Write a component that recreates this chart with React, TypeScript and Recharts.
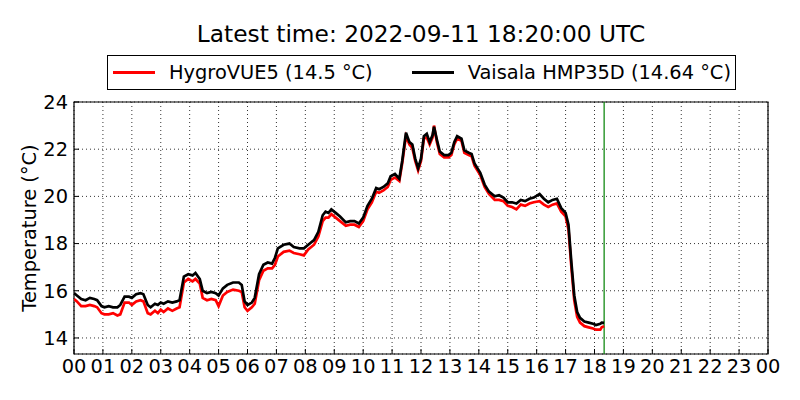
import React from "react";
import {
  LineChart,
  Line,
  XAxis,
  YAxis,
  CartesianGrid,
  ReferenceLine,
  ReferenceArea,
} from "recharts";

const titleText = "Latest time: 2022-09-11 18:20:00 UTC";
const seriesNames = ["HygroVUE5 (14.5 °C)", "Vaisala HMP35D (14.64 °C)"];
const seriesColors = ["#ff0000", "#000000"];
const latestHour = 18.333;

const hours = [
  0.0, 0.1, 0.25, 0.4, 0.55, 0.7, 0.8, 0.95, 1.05, 1.2, 1.35, 1.5, 1.6, 1.75, 1.9, 2.0,
  2.15, 2.3, 2.4, 2.55, 2.65, 2.8, 2.9, 3.0, 3.1, 3.25, 3.4, 3.55, 3.65, 3.8, 3.95, 4.1,
  4.2, 4.35, 4.45, 4.6, 4.75, 4.9, 5.0, 5.15, 5.3, 5.5, 5.7, 5.8, 5.9, 6.0, 6.15, 6.25,
  6.4, 6.55, 6.7, 6.85, 6.95, 7.05, 7.25, 7.45, 7.6, 7.8, 7.95, 8.1, 8.3, 8.45, 8.6, 8.7,
  8.8, 8.9, 9.05, 9.2, 9.4, 9.55, 9.7, 9.85, 10.0, 10.15, 10.3, 10.45, 10.55, 10.7, 10.85,
  10.95, 11.1, 11.25, 11.35, 11.48, 11.6, 11.7, 11.8, 11.9, 12.0, 12.1, 12.2, 12.3, 12.4,
  12.45, 12.55, 12.65, 12.8, 12.95, 13.05, 13.15, 13.25, 13.4, 13.5, 13.65, 13.75, 13.85,
  14.05, 14.2, 14.35, 14.55, 14.7, 14.85, 15.0, 15.15, 15.3, 15.45, 15.6, 15.75, 15.9,
  16.1, 16.25, 16.4, 16.55, 16.7, 16.85, 17.0, 17.1, 17.2, 17.3, 17.4, 17.5, 17.65, 17.8,
  17.95, 18.05, 18.2, 18.25, 18.333,
];

const vaisala = [
  15.9, 15.8, 15.65, 15.6, 15.7, 15.65, 15.6, 15.35, 15.3, 15.35, 15.3, 15.3, 15.4, 15.75, 15.75, 15.7,
  15.85, 15.9, 15.85, 15.4, 15.3, 15.45, 15.4, 15.5, 15.45, 15.55, 15.5, 15.55, 15.6, 16.6, 16.7, 16.65,
  16.75, 16.5, 16.0, 15.9, 15.95, 15.9, 15.8, 16.1, 16.25, 16.35, 16.35, 16.25, 15.55, 15.4, 15.5, 15.7,
  16.7, 17.1, 17.2, 17.15, 17.4, 17.8, 17.95, 18.0, 17.85, 17.8, 17.8, 17.95, 18.15, 18.5, 19.2, 19.35,
  19.3, 19.45, 19.3, 19.15, 18.9, 18.95, 18.95, 18.85, 19.1, 19.6, 19.9, 20.35, 20.3, 20.4, 20.55,
  20.85, 20.95, 20.75, 21.5, 22.7, 22.3, 22.2, 21.6, 21.2, 21.6, 22.55, 22.65, 22.3, 22.6,
  22.95, 22.4, 21.9, 21.75, 21.75, 21.85, 22.3, 22.55, 22.45, 21.95, 21.85, 21.8, 21.4,
  21.0, 20.5, 20.2, 20.0, 20.05, 19.95, 19.75, 19.75, 19.7, 19.85, 19.8, 19.9, 19.95,
  20.1, 19.9, 19.75, 19.85, 19.9, 19.5, 19.3, 18.8, 17.2, 15.8, 15.1, 14.85, 14.7, 14.65,
  14.6, 14.55, 14.6, 14.65, 14.64,
];

const hygrovue = [
  15.65, 15.55, 15.35, 15.35, 15.4, 15.35, 15.3, 15.05, 15.0, 15.0, 15.05, 14.95, 15.0, 15.5, 15.5, 15.4,
  15.55, 15.6, 15.55, 15.05, 15.0, 15.15, 15.05, 15.2, 15.1, 15.25, 15.15, 15.25, 15.3, 16.35, 16.5, 16.4,
  16.5, 16.3, 15.7, 15.6, 15.65, 15.6, 15.35, 15.8, 15.95, 16.05, 16.0, 15.95, 15.3, 15.15, 15.3, 15.45,
  16.45, 16.85, 16.95, 16.95, 17.1, 17.45, 17.65, 17.7, 17.6, 17.55, 17.5, 17.75, 17.95, 18.3, 18.95, 19.1,
  19.1, 19.25, 19.1, 18.95, 18.75, 18.8, 18.8, 18.7, 18.95, 19.45, 19.75, 20.2, 20.15, 20.25, 20.4,
  20.7, 20.8, 20.65, 21.4, 22.55, 22.2, 22.05, 21.5, 21.1, 21.5, 22.45, 22.5, 22.2, 22.5,
  23.0, 22.3, 21.8, 21.65, 21.65, 21.75, 22.2, 22.45, 22.35, 21.85, 21.75, 21.7, 21.3,
  20.9, 20.4, 20.1, 19.85, 19.85, 19.8, 19.6, 19.55, 19.45, 19.65, 19.6, 19.7, 19.75,
  19.8, 19.65, 19.55, 19.65, 19.7, 19.35, 19.15, 18.6, 17.0, 15.6, 14.9, 14.65, 14.5, 14.45,
  14.4, 14.35, 14.35, 14.45, 14.5,
];

const xTicks = [0, 1, 2, 3, 4, 5, 6, 7, 8, 9, 10, 11, 12, 13, 14, 15, 16, 17, 18, 19, 20, 21, 22, 23, 24];
const yTicks = [14, 16, 18, 20, 22, 24];
const yDomain: [number, number] = [13.32, 24];

const data = hours.map((h, i) => ({ h, hygro: hygrovue[i], vaisala: vaisala[i] }));

const font = "'DejaVu Sans', sans-serif";
const tickFont = 19.4;
const X_GAP = 5; // tickSize + tickMargin on x axis
const Y_GAP = 6; // tickSize + tickMargin on y axis
const TICK_LEN = 5;

const XTick = (props: any) => {
  const { x, y, payload } = props;
  const axisY = y - X_GAP;
  const label = String(payload.value % 24).padStart(2, "0");
  return (
    <g>
      <line x1={x} x2={x} y1={axisY} y2={axisY - TICK_LEN} stroke="#000" strokeWidth={1} />
      <text x={x} y={y} dy="0.71em" textAnchor="middle" fill="#000" fontSize={tickFont} fontFamily={font}>
        {label}
      </text>
    </g>
  );
};

const YTick = (props: any) => {
  const { x, y, payload } = props;
  const axisX = x + Y_GAP;
  return (
    <g>
      <line x1={axisX} x2={axisX + TICK_LEN} y1={y} y2={y} stroke="#000" strokeWidth={1} />
      <text x={x} y={y} dy="0.355em" textAnchor="end" fill="#000" fontSize={tickFont} fontFamily={font}>
        {payload.value}
      </text>
    </g>
  );
};

export default function App() {
  return (
    <div style={{ position: "absolute", left: 0, top: 0, width: 800, height: 400, background: "#fff", fontFamily: font }}>
      <div
        style={{
          position: "absolute",
          left: 74,
          width: 694,
          top: 20,
          textAlign: "center",
          fontSize: 23.3,
          lineHeight: "28px",
          color: "#000",
          whiteSpace: "nowrap",
        }}
      >
        {titleText}
      </div>
      <div
        style={{
          position: "absolute",
          left: 107,
          top: 55,
          width: 627,
          height: 33,
          border: "1px solid #000",
          display: "flex",
          alignItems: "center",
          fontSize: tickFont,
          color: "#000",
          boxSizing: "content-box",
          whiteSpace: "nowrap",
        }}
      >
        {seriesNames.map((n, i) => (
          <div key={n} style={{ display: "flex", alignItems: "center", marginLeft: i === 0 ? 5 : 39 }}>
            <div style={{ width: 42, height: 2.8, background: seriesColors[i], marginRight: 14 }} />
            <span>{n}</span>
          </div>
        ))}
      </div>
      <LineChart
        width={800}
        height={400}
        data={data}
        margin={{ top: 102, right: 32, bottom: 0, left: 0 }}
        style={{ fontFamily: font }}
      >
        <CartesianGrid stroke="#000" strokeDasharray="1 3" strokeWidth={0.8} />
        <XAxis
          dataKey="h"
          type="number"
          domain={[0, 24]}
          ticks={xTicks}
          interval={0}
          allowDataOverflow
          height={46}
          tickLine={false}
          axisLine={false}
          tickSize={4}
          tickMargin={1}
          tick={<XTick />}
        />
        <YAxis
          type="number"
          domain={yDomain}
          ticks={yTicks}
          interval={0}
          allowDataOverflow
          width={74}
          tickLine={false}
          axisLine={false}
          tickSize={4}
          tickMargin={2}
          tick={<YTick />}
          label={{
            value: "Temperature (°C)",
            angle: -90,
            position: "insideLeft",
            offset: 29,
            style: { textAnchor: "middle", fill: "#000", fontSize: tickFont },
          }}
        />
        <ReferenceArea x1={0} x2={24} y1={yDomain[0]} y2={yDomain[1]} fill="none" stroke="#000" strokeWidth={1.2} ifOverflow="visible" />
        <ReferenceLine x={latestHour} stroke="#008000" strokeWidth={1.2} />
        <Line
          type="linear"
          dataKey="hygro"
          stroke={seriesColors[0]}
          strokeWidth={2.7}
          dot={false}
          isAnimationActive={false}
        />
        <Line
          type="linear"
          dataKey="vaisala"
          stroke={seriesColors[1]}
          strokeWidth={2.7}
          dot={false}
          isAnimationActive={false}
        />
      </LineChart>
    </div>
  );
}
